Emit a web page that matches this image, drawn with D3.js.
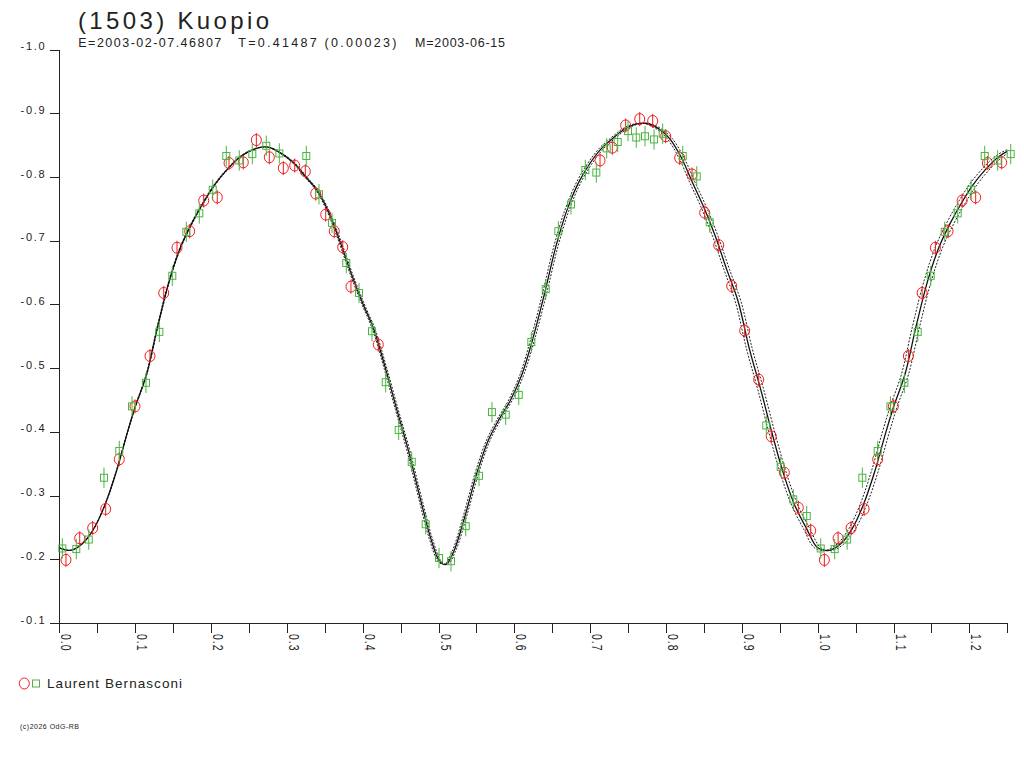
<!DOCTYPE html>
<html>
<head>
<meta charset="utf-8">
<script src="https://cdn.jsdelivr.net/npm/d3@7"></script>
<style>
body { margin: 0; background: #fff; }
svg { display: block; font-family: "Liberation Sans", Arial, sans-serif; }
</style>
</head>
<body>
<svg id="chart" width="1024" height="768"></svg>
<script>
// session 1 (red circles)
const redPhase = [0.0088,0.0269,0.0440,0.0612,0.0791,0.0998,0.1196,0.1377,0.1552,0.1719,
    0.1904,0.2083,0.2238,0.2426,0.2598,0.2769,0.2954,0.3104,0.3244,0.3381,
    0.3513,0.3626,0.3737,0.3846,0.4206,0.7130,0.7292,0.7468,0.7653,0.7824,
    0.7996,0.8180,0.8343,0.8510,0.8695,0.8866,0.9037,0.9222,0.9388,0.9560,
    0.9744,0.9908];
const redMag = [-0.199,-0.233,-0.249,-0.279,-0.357,-0.440,-0.519,-0.618,-0.689,-0.715,
    -0.763,-0.768,-0.822,-0.823,-0.858,-0.831,-0.814,-0.818,-0.809,-0.774,
    -0.741,-0.715,-0.690,-0.628,-0.537,-0.826,-0.846,-0.881,-0.891,-0.888,
    -0.864,-0.830,-0.804,-0.744,-0.693,-0.629,-0.559,-0.482,-0.393,-0.336,
    -0.281,-0.245];
const redErr = 0.011;

// session 2 (green squares)
const greenPhase = [0.0040,0.0224,0.0388,0.0589,0.0791,0.0959,0.1143,0.1319,0.1490,0.1675,
    0.1846,0.2023,0.2202,0.2373,0.2545,0.2729,0.2901,0.3257,0.3424,0.3596,
    0.3784,0.3952,0.4123,0.4304,0.4475,0.4647,0.4831,0.5007,0.5165,0.5359,
    0.5534,0.5705,0.5886,0.6058,0.6224,0.6414,0.6580,0.6747,0.6936,0.7081,
    0.7218,0.7363,0.7499,0.7608,0.7723,0.7842,0.7956,0.8220,0.8405,0.8576,
    0.9322,0.9512,0.9678,0.9855];
const greenMag = [-0.217,-0.216,-0.231,-0.328,-0.370,-0.440,-0.477,-0.557,-0.645,-0.714,
    -0.743,-0.780,-0.833,-0.826,-0.836,-0.849,-0.837,-0.833,-0.773,-0.728,
    -0.665,-0.618,-0.558,-0.478,-0.403,-0.353,-0.255,-0.202,-0.197,-0.252,
    -0.331,-0.431,-0.427,-0.458,-0.541,-0.624,-0.715,-0.757,-0.811,-0.807,
    -0.845,-0.855,-0.872,-0.862,-0.864,-0.859,-0.868,-0.833,-0.801,-0.729,
    -0.410,-0.345,-0.294,-0.268];
const greenErr = 0.016;

// fitted lightcurve, one cycle
const fitPhase = [0.000,0.015,0.030,0.045,0.060,0.075,0.090,0.100,0.115,0.130,
    0.145,0.160,0.175,0.190,0.205,0.220,0.240,0.260,0.275,0.290,
    0.310,0.325,0.340,0.355,0.370,0.385,0.400,0.415,0.430,0.445,
    0.460,0.475,0.490,0.502,0.510,0.520,0.535,0.550,0.565,0.580,
    0.595,0.610,0.625,0.640,0.655,0.670,0.685,0.700,0.715,0.730,
    0.745,0.760,0.775,0.790,0.805,0.820,0.835,0.850,0.865,0.880,
    0.895,0.910,0.925,0.940,0.955,0.970,0.985];
const fitMag = [-0.218,-0.214,-0.224,-0.247,-0.285,-0.337,-0.400,-0.439,-0.490,-0.567,
    -0.637,-0.690,-0.728,-0.760,-0.788,-0.810,-0.833,-0.845,-0.847,-0.839,
    -0.821,-0.800,-0.779,-0.745,-0.699,-0.648,-0.602,-0.560,-0.500,-0.435,
    -0.372,-0.300,-0.232,-0.196,-0.192,-0.212,-0.268,-0.333,-0.385,-0.420,
    -0.450,-0.490,-0.549,-0.618,-0.692,-0.750,-0.792,-0.822,-0.845,-0.861,
    -0.875,-0.883,-0.884,-0.876,-0.860,-0.831,-0.791,-0.752,-0.707,-0.655,
    -0.605,-0.530,-0.466,-0.397,-0.334,-0.284,-0.249];
const SPREAD = 0.0042; // phase spread of the period-error curves per cycle

const yTicks = [-1.0,-0.9,-0.8,-0.7,-0.6,-0.5,-0.4,-0.3,-0.2,-0.1];
const xTicks = [0,0.05,0.1,0.15,0.2,0.25,0.3,0.35,0.4,0.45,0.5,0.55,0.6,0.65,
    0.7,0.75,0.8,0.85,0.9,0.95,1.0,1.05,1.1,1.15,1.2,1.25];
const xLabels = ["0.0","0.1","0.2","0.3","0.4","0.5","0.6","0.7","0.8","0.9","1.0","1.1","1.2"];

const svg = d3.select('#chart');
const INK = '#222';

const x = d3.scaleLinear().domain([0, 1.25]).range([59.3, 1007.3]);
const y = d3.scaleLinear().domain([-0.1, -1.0]).range([623, 49.6]);

// title block
svg.append('text').attr('x', 78).attr('y', 28.5)
    .attr('font-size', 24).attr('fill', INK)
    .attr('textLength', 191).attr('lengthAdjust', 'spacing')
    .text('(1503) Kuopio');

const sub = [
    {t: 'E=2003-02-07.46807', x: 78.3, w: 143},
    {t: 'T=0.41487 (0.00023)', x: 238.3, w: 158},
    {t: 'M=2003-06-15', x: 415, w: 90}
];
svg.selectAll('text.sub').data(sub).enter().append('text')
    .attr('class', 'sub')
    .attr('x', d => d.x).attr('y', 46.7)
    .attr('font-size', 12.5).attr('fill', INK)
    .attr('textLength', d => d.w).attr('lengthAdjust', 'spacing')
    .text(d => d.t);

// axes
const xAxis = svg.append('g')
    .attr('transform', `translate(0,${y(-0.1)})`)
    .call(d3.axisBottom(x).tickValues(xTicks).tickSize(10)
        .tickFormat(d => {
            const k = Math.round(d * 20);
            return k % 2 === 0 ? xLabels[k / 2] : '';
        }));
xAxis.select('.domain').remove();
xAxis.selectAll('line').attr('stroke', INK).attr('shape-rendering', 'crispEdges');
xAxis.selectAll('text')
    .attr('x', 0).attr('y', 0).attr('dy', 0)
    .attr('text-anchor', 'start')
    .attr('font-size', 10.5).attr('fill', INK)
    .attr('letter-spacing', 1)
    .attr('font-family', '"Liberation Sans", Arial, sans-serif')
    .attr('transform', 'translate(1.5,11) rotate(90) scale(1,1.45)');

const yAxis = svg.append('g')
    .attr('transform', `translate(${x(0)},0)`)
    .call(d3.axisLeft(y).tickValues(yTicks).tickSize(9).tickFormat(d => d.toFixed(1)));
yAxis.select('.domain').remove();
yAxis.selectAll('line').attr('stroke', INK).attr('shape-rendering', 'crispEdges');
yAxis.selectAll('text')
    .attr('x', -13).attr('dy', 0)
    .attr('font-size', 11).attr('fill', INK)
    .attr('letter-spacing', 1.7)
    .attr('font-family', '"Liberation Sans", Arial, sans-serif');

svg.append('line')
    .attr('x1', 50).attr('x2', x(1.25))
    .attr('y1', y(-0.1)).attr('y2', y(-0.1))
    .attr('stroke', INK).attr('shape-rendering', 'crispEdges');
svg.append('line')
    .attr('x1', x(0)).attr('x2', x(0))
    .attr('y1', y(-1.0)).attr('y2', y(-0.1) + 6)
    .attr('stroke', INK).attr('shape-rendering', 'crispEdges');

// fit curves
svg.append('clipPath').attr('id', 'plot-clip')
    .append('rect')
    .attr('x', x(0)).attr('y', 0)
    .attr('width', x(1.25) - x(0)).attr('height', 768);

const cycle = fitPhase.map((p, i) => ({p, m: fitMag[i]}));
const fit = cycle
    .concat(cycle.map(d => ({p: d.p + 1, m: d.m})).filter(d => d.p <= 1.3));

const fitLine = shift => d3.line()
    .x(d => x(d.p * (1 + shift)))
    .y(d => y(d.m))
    .curve(d3.curveCatmullRom);

const curves = svg.append('g').attr('clip-path', 'url(#plot-clip)');
[-SPREAD, SPREAD].forEach(s => {
    curves.append('path')
        .datum(fit)
        .attr('d', fitLine(s))
        .attr('fill', 'none')
        .attr('stroke', INK)
        .attr('stroke-width', 1)
        .attr('stroke-dasharray', '2,1.5');
});
curves.append('path')
    .datum(fit)
    .attr('d', fitLine(0))
    .attr('fill', 'none')
    .attr('stroke', '#111')
    .attr('stroke-width', 1.3);

// observations, points with phase < 0.25 repeated one cycle later
const repeat = arr => arr.concat(arr.filter(d => d.p + 1 <= 1.256).map(d => ({p: d.p + 1, m: d.m})));
const red = repeat(redPhase.map((p, i) => ({p, m: redMag[i]})));
const green = repeat(greenPhase.map((p, i) => ({p, m: greenMag[i]})));

const RED = '#f01e1e', GREEN = '#4cb443';

const redG = svg.append('g');
redG.selectAll('line').data(red).enter().append('line')
    .attr('x1', d => x(d.p)).attr('x2', d => x(d.p))
    .attr('y1', d => y(d.m - redErr)).attr('y2', d => y(d.m + redErr))
    .attr('stroke', RED);
redG.selectAll('ellipse').data(red).enter().append('ellipse')
    .attr('cx', d => x(d.p)).attr('cy', d => y(d.m))
    .attr('rx', 5).attr('ry', 5.5)
    .attr('fill', 'none').attr('stroke', RED);

const greenG = svg.append('g');
greenG.selectAll('line').data(green).enter().append('line')
    .attr('x1', d => x(d.p)).attr('x2', d => x(d.p))
    .attr('y1', d => y(d.m - greenErr)).attr('y2', d => y(d.m + greenErr))
    .attr('stroke', GREEN);
greenG.selectAll('rect').data(green).enter().append('rect')
    .attr('x', d => x(d.p) - 3.5).attr('y', d => y(d.m) - 3.5)
    .attr('width', 7).attr('height', 7)
    .attr('fill', 'none').attr('stroke', GREEN);

// legend
svg.append('ellipse').attr('cx', 24.3).attr('cy', 683.5).attr('rx', 5).attr('ry', 5.5)
    .attr('fill', 'none').attr('stroke', RED);
svg.append('rect').attr('x', 32.5).attr('y', 680).attr('width', 7).attr('height', 7)
    .attr('fill', 'none').attr('stroke', GREEN);
svg.append('text').attr('x', 47).attr('y', 688)
    .attr('font-size', 13.5).attr('fill', INK)
    .attr('textLength', 135).attr('lengthAdjust', 'spacing')
    .text('Laurent Bernasconi');

// footer
svg.append('text').attr('x', 20).attr('y', 728.5)
    .attr('font-size', 7).attr('fill', INK)
    .attr('textLength', 59).attr('lengthAdjust', 'spacing')
    .text('(c)2026 OdG-RB');
</script>
</body>
</html>
